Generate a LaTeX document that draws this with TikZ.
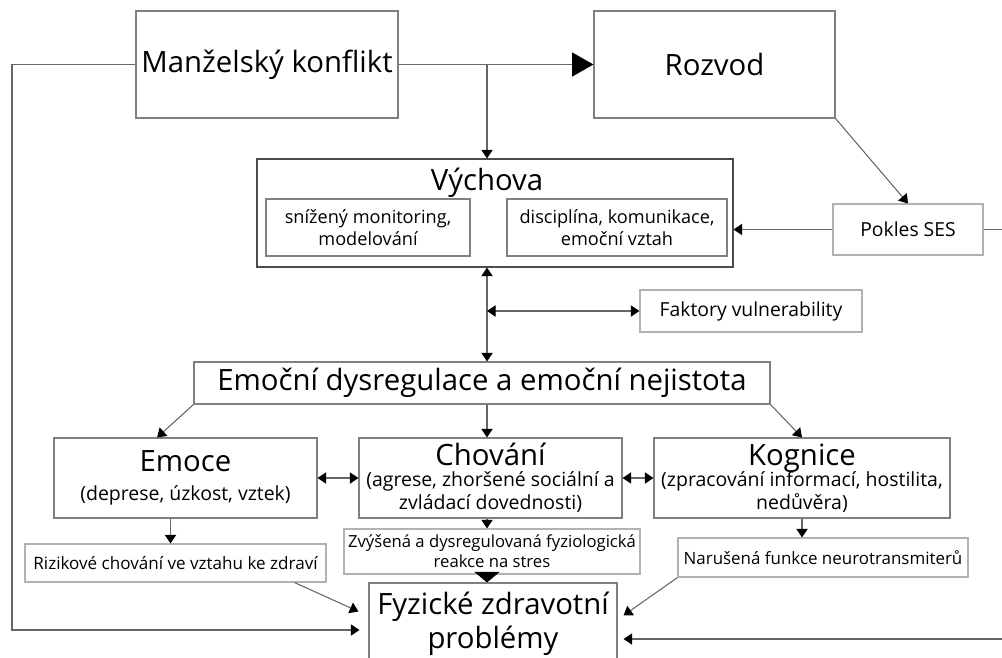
\documentclass[tikz,border=0pt]{standalone}
\usepackage{fontspec}
\setmainfont{Open Sans}
\usetikzlibrary{arrows.meta,calc}

\newcommand\ftitle{\fontsize{22}{25.5}\selectfont}
\newcommand\fsub{\fontsize{14.6}{17.25}\selectfont}
\newcommand\fvych{\fontsize{13.6}{17}\selectfont}
\newcommand\fsmall{\fontsize{14.5}{17}\selectfont}
\newcommand\ftiny{\fontsize{12.5}{15}\selectfont}

\tikzset{
  box/.style={draw=gray,line width=0.8pt,align=center,inner sep=0pt},
  lbox/.style={draw=gray!60,line width=0.8pt,align=center,inner sep=0pt},
  dbox/.style={draw=black!70,line width=0.8pt,inner sep=0pt},
  conn/.style={draw=gray!80!black,line width=0.8pt},
  arr/.style={conn,-{Triangle[length=6.5pt,width=8.5pt,color=black]}},
  darr/.style={conn,{Triangle[length=6.5pt,width=8.5pt,color=black]}-{Triangle[length=6.5pt,width=8.5pt,color=black]}},
  bigarr/.style={conn,-{Triangle[length=16pt,width=18pt,color=black]}},
  flatarr/.style={conn,-{Triangle[length=8pt,width=19pt,color=black]}},
}

\begin{document}
\begin{tikzpicture}[x=0.75pt,y=0.75pt,yscale=-1]
\useasboundingbox (0,0) rectangle (1002,657);
\clip (0,0) rectangle (1002,657);

% top row
\node[box,minimum width=196.5pt,minimum height=80.25pt] (manz) at (267,64.5) {\ftitle Manželský konflikt};
\node[box,minimum width=180.75pt,minimum height=80.25pt] (rozvod) at (714.5,64.5) {\ftitle Rozvod};

% parenting
\node[dbox,minimum width=357pt,minimum height=81pt] (vych) at (495,213) {};
\node[inner sep=0pt] (vychT) at (487,183) {\ftitle Výchova};
\node[box,font=\fvych,minimum width=153pt,minimum height=42.75pt] (vychL) at (368,227.5) {snížený monitoring,\\ modelování};
\node[box,font=\fvych,minimum width=165pt,minimum height=42.75pt] (vychR) at (617,227.5) {disciplína, komunikace,\\ emoční vztah};
\node[lbox,minimum width=112.5pt,minimum height=38.25pt] (pokles) at (908,229.5) {\fsmall Pokles SES};
\node[lbox,minimum width=166.5pt,minimum height=31.5pt] (faktory) at (751,311) {\fsmall Faktory vulnerability};

% emotional security
\node[box,minimum width=432pt,minimum height=31.5pt] (emocni) at (482,383) {\ftitle Emoční dysregulace a emoční nejistota};
\node[box,font=\fsub,minimum width=197.25pt,minimum height=60pt] (emoce) at (185.5,478) {{\ftitle Emoce}\\[4pt] (deprese, úzkost, vztek)};
\node[box,font=\fsub,minimum width=197.25pt,minimum height=60pt] (chovani) at (490.5,478) {{\ftitle Chování}\\[-1.5pt] (agrese, zhoršené sociální a\\ zvládací dovednosti)};
\node[box,font=\fsub,minimum width=222pt,minimum height=60pt] (kognice) at (802,478) {{\ftitle Kognice}\\[-1.5pt] (zpracování informací, hostilita,\\ nedůvěra)};

% outcomes
\node[lbox,minimum width=225.75pt,minimum height=28.5pt] (rizik) at (175.5,563) {\fontsize{12.8}{15}\selectfont Rizikové chování ve vztahu ke zdraví};
\node[lbox,font=\ftiny,minimum width=222pt,minimum height=33.75pt] (zvys) at (492,551.5) {Zvýšená a dysregulovaná fyziologická\\ reakce na stres};
\node[lbox,minimum width=217.5pt,minimum height=29.25pt] (naru) at (823,557.5) {\fontsize{12.7}{15}\selectfont Narušená funkce neurotransmiterů};
\node[box,font=\ftitle,minimum width=186pt,minimum height=61.5pt] (fyz) at (493,624) {Fyzické zdravotní\\ problémy};

\coordinate (spine) at (487,0);
\coordinate (lcorner) at (12,64.5);
\coordinate (lbottom) at (12,630);
\coordinate (redge) at (1002,0);
\coordinate (rbot) at (1002,639);

% connectors
\draw[bigarr] (manz.east) -- (rozvod.west);
\draw[arr] (manz.east -| spine) -- (vych.north -| spine);
\draw[arr] (manz.west) -- (lcorner) -- (lbottom) -- ($(fyz.west |- lbottom)+(-9,0)$);
\draw[arr] (rozvod.south east) -- (pokles.north);
\draw[arr] (pokles.west) -- (vych.east |- pokles.west);
\draw[conn] (pokles.east) -- (pokles.east -| redge);
\draw[darr] (vych.south -| spine) -- (emocni.north -| spine);
\draw[darr] (faktory.west -| spine) -- (faktory.west);
\draw[arr] (emocni.south west) -- (emoce.125);
\draw[arr] (emocni.south -| spine) -- (chovani.north -| spine);
\draw[arr] (emocni.south east) -- (kognice.north);
\draw[darr] (emoce.east) -- (chovani.west);
\draw[darr] (chovani.east) -- (kognice.west);
\draw[arr] ($(emoce.south)+(-15,0)$) -- ($(emoce.south |- rizik.north)+(-15,0)$);
\draw[arr] (chovani.south -| spine) -- (zvys.north -| spine);
\draw[flatarr] (zvys.south -| spine) -- (fyz.north -| spine);
\draw[arr] (kognice.south) -- (kognice.south |- naru.north);
\draw[arr] ($(rizik.south east)+(-32,0)$) -- ($(fyz.north west)+(-10,29)$);
\draw[arr] (naru.south west) -- ($(fyz.north east)+(6,33)$);
\draw[arr] (rbot) -- ($(fyz.east |- rbot)+(6,0)$);

\end{tikzpicture}
\end{document}
